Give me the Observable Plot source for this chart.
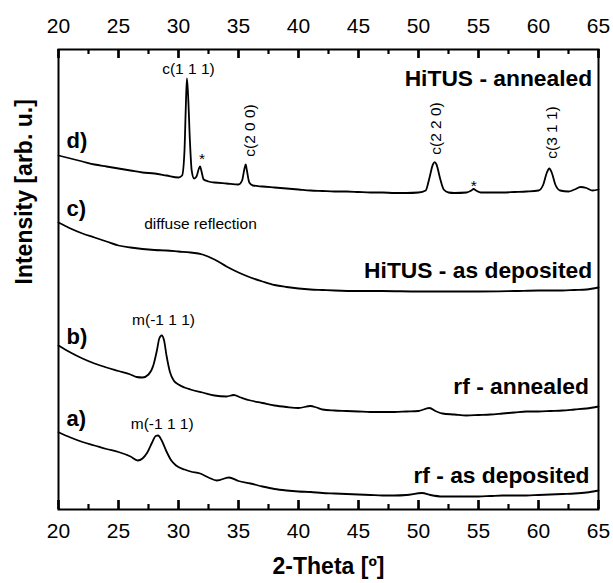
<!DOCTYPE html>
<html>
<head>
<meta charset="utf-8">
<script src="https://cdn.jsdelivr.net/npm/d3@7"></script>
<script src="https://cdn.jsdelivr.net/npm/@observablehq/plot@0.6"></script>
<style>
  body { margin: 0; background: #fff; }
  #chart svg { display: block; background: #fff; }
</style>
</head>
<body>
<div id="chart"></div>
<script>
// ---- Data (2-Theta in degrees, intensity in arbitrary units, curves stacked with offsets) ----
const thetaD = [20,21,22,23,24,25,26,27,28,29,30,30.3,30.5,30.6,30.7,30.8,30.95,31.1,31.3,31.5,31.7,31.8,31.9,32.1,32.5,33,34,35,35.3,35.5,35.6,35.7,35.9,36.2,37,38,39,40,41,42,43,44,45,46,47,48,49,50,50.6,50.9,51.2,51.35,51.5,51.8,52.1,52.5,53,54,54.4,54.6,54.8,55.2,56,57,58,59,60,60.4,60.7,60.9,61.1,61.4,61.8,62.5,63,63.5,64,64.5,65];
const intD   = [354,351,348,345,343,341,339,337,336,334,332,334,359,399,431,414,369,339,331,333,341,343,339,330,328,327,326,325,329,341,345,339,327,324,323,322,321,320,319,318.5,318,318,317.5,317,317,316.5,316.5,317,319,331,345,347.3,345,331,320,317,316.5,317,319,320.5,319,317,317,317,317.5,318,319,325,337,341,337,325,319,318,320,322.5,321.5,319,320];

const thetaC = [20,20.5,21,22,23,24,25,26,27,28,29,30,31,32,33,34,35,36,37,38,39,40,41,42,43,45,47,50,53,55,58,60,62,63,64,65];
const intC   = [287,284,281,276,272,268,264,262,260.5,259.5,259,258,257,255,250,243,237,232,228,224.5,222.5,221,220,219.5,219,218.5,218.5,218,218,218,218.5,219,219,219.5,220,222];

const thetaB = [20,21,22,23,24,25,26,26.5,27,27.5,27.9,28.2,28.4,28.6,28.8,29,29.3,29.6,30,30.5,31,32,33,34,34.6,35.2,36,37,38,39,40,41,41.5,42,43,44,45,46,47,48,49,50,50.9,51.5,52,53,54,55,56,57,58,59,60,61,62,63,64,65];
const intB   = [164,157,151,146,142,138.5,135,132.5,132,135,144,159,171,174,169,154,137,129,125,122,120,117,114,113,114.5,112,109,106.5,104,102.5,101.5,103.5,102,100,99,98.5,98,97.5,97.5,97.5,98,98.5,101.5,98,96,95,94,94.5,95,96,97,98,98,98.5,99,100,101,103];

const thetaA = [20,21,22,23,24,25,26,26.6,27,27.4,27.8,28.1,28.3,28.6,29,29.4,29.8,30.5,31,31.8,32.5,33.2,34.2,35,36,37,38,39,40,41,42,43,44,45,46,47,48,49,50.3,51,52,53,54,55,56,57,58,59,60,61,62,63,64,65];
const intA   = [77.3,72,67.5,64,60.5,57.5,53,49,51,57,67,73.5,74,69,58,49,44,40,38,36,32,29,32,28.5,26,23,20.5,19,18,17.5,16.5,16,15.5,15,14.5,14,14,14.5,16.5,14.5,13,13,13,13,13.5,14,14,14,14.5,15,15.5,16,17,19];

const majorTicks = [20,25,30,35,40,45,50,55,60,65];
const minorTicks = [22.5,27.5,32.5,37.5,42.5,47.5,52.5,57.5,62.5];

// Sample names (right side) with anchor points in data space
const sampleNames = ["HiTUS - annealed","HiTUS - as deposited","rf - annealed","rf - as deposited"];
const sampleNameX = [64.47, 64.47, 64.2, 64.25];
const sampleNameY = [431, 239, 122.3, 34];

// Panel letters
const panelLetters = ["d)","c)","b)","a)"];
const panelLetterX = [20.67, 20.67, 20.67, 20.67];
const panelLetterY = [369, 301, 172.5, 91];

// Reflection labels
const peakLabels = ["c(1 1 1)","c(2 0 0)","c(2 2 0)","c(3 1 1)","m(-1 1 1)","m(-1 1 1)","diffuse reflection","*","*"];
const peakLabelX = [30.83, 36.0, 51.45, 61.15, 28.75, 28.64, 31.83, 31.97, 54.6];
const peakLabelY = [440, 379, 381, 377, 189, 85, 285.5, 350, 323];
const peakLabelRot = [0, -90, -90, -90, 0, 0, 0, 0, 0];

// ---- Build tables ----
const curves = [
  ...thetaD.map((t,i)=>({curve:"d", theta:t, intensity:intD[i]})),
  ...thetaC.map((t,i)=>({curve:"c", theta:t, intensity:intC[i]})),
  ...thetaB.map((t,i)=>({curve:"b", theta:t, intensity:intB[i]})),
  ...thetaA.map((t,i)=>({curve:"a", theta:t, intensity:intA[i]}))
];
const names = sampleNames.map((s,i)=>({s, x:sampleNameX[i], y:sampleNameY[i]}));
const letters = panelLetters.map((s,i)=>({s, x:panelLetterX[i], y:panelLetterY[i]}));
const peaks = peakLabels.map((s,i)=>({s, x:peakLabelX[i], y:peakLabelY[i], r:peakLabelRot[i]}));

const FONT = "'Liberation Sans', Arial, Helvetica, sans-serif";
const Y0 = 0, Y1 = 460;      // y-domain (1 unit = 1 px of frame)
const MAJ = 9, MIN = 5;      // inward tick lengths (px)

const chart = Plot.plot({
  width: 613,
  height: 583,
  marginTop: 49,
  marginBottom: 74,
  marginLeft: 58,
  marginRight: 15,
  style: {fontFamily: FONT},
  x: {domain: [20, 65]},
  y: {domain: [Y0, Y1], axis: null},
  marks: [
    Plot.line(curves, {x: "theta", y: "intensity", z: "curve", stroke: "black", strokeWidth: 1.8, curve: "monotone-x"}),
    // tick labels
    Plot.axisX({anchor: "bottom", ticks: majorTicks, tickSize: 0, tickPadding: 13.5, fontSize: 21, label: null, fill: "black"}),
    Plot.axisX({anchor: "top", ticks: majorTicks, tickSize: 0, tickPadding: 16.5, fontSize: 21, label: null, fill: "black"}),
    // inward ticks (bottom and top)
    Plot.ruleX(majorTicks, {x: d => d, y1: Y0, y2: Y0 + MAJ, stroke: "black", strokeWidth: 2.2}),
    Plot.ruleX(minorTicks, {x: d => d, y1: Y0, y2: Y0 + MIN, stroke: "black", strokeWidth: 2.2}),
    Plot.ruleX(majorTicks, {x: d => d, y1: Y1 - MAJ, y2: Y1, stroke: "black", strokeWidth: 2.2}),
    Plot.ruleX(minorTicks, {x: d => d, y1: Y1 - MIN, y2: Y1, stroke: "black", strokeWidth: 2.2}),
    Plot.tickX(majorTicks, {x: d => d, insetTop: (Y1 - Y0) - MAJ, stroke: "black", strokeWidth: 2.2}),
    Plot.tickX(majorTicks, {x: d => d, insetBottom: (Y1 - Y0) - MAJ, stroke: "black", strokeWidth: 2.2}),
    Plot.frame({stroke: "black", strokeWidth: 2}),
    Plot.text(names, {x: "x", y: "y", text: "s", textAnchor: "end", fontSize: 22.8, fontWeight: "bold", fill: "black"}),
    Plot.text(letters, {x: "x", y: "y", text: "s", textAnchor: "start", fontSize: 22, fontWeight: "bold", fill: "black"}),
    Plot.text(peaks, {x: "x", y: "y", text: "s", rotate: "r", fontSize: 15.5, fill: "black"}),
    Plot.text(["2-Theta [º]"], {frameAnchor: "bottom", dy: 64, fontSize: 23, fontWeight: "bold", fill: "black"}),
    Plot.text(["Intensity [arb. u.]"], {frameAnchor: "left", dx: -34, dy: 5, rotate: -90, fontSize: 23, fontWeight: "bold", fill: "black"})
  ]
});
document.getElementById("chart").appendChild(chart);
</script>
</body>
</html>
